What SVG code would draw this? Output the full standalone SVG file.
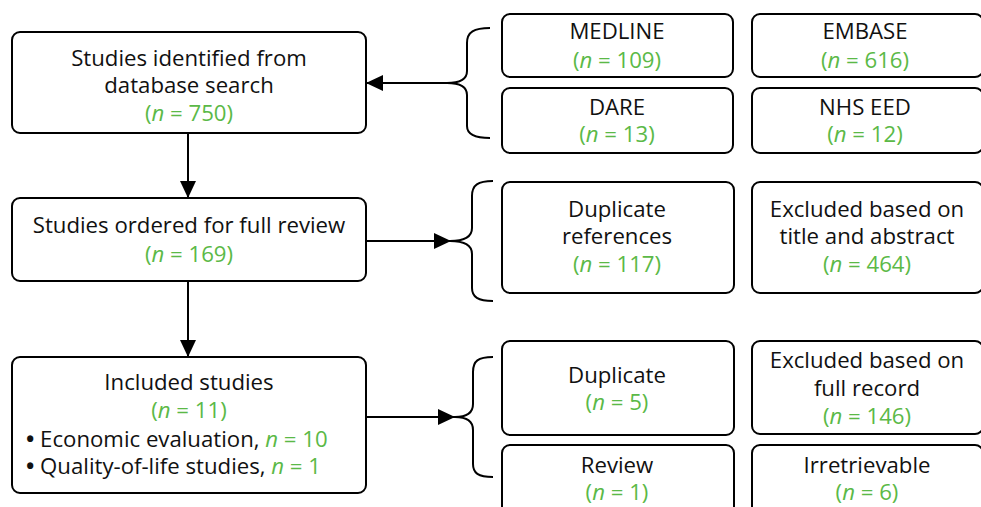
<svg xmlns="http://www.w3.org/2000/svg" width="981" height="507" viewBox="0 0 981 507">
<defs>
<style>
.box{fill:#fff;stroke:#000;stroke-width:2}
.t{font-family:"Open Sans","Noto Sans",sans-serif;font-size:22.2px;fill:#111;text-anchor:middle}
.l{text-anchor:start}
.g{fill:#5bb947}
.i{font-style:italic}
.c{fill:none;stroke:#000;stroke-width:2}
</style>
<marker id="ah" markerUnits="userSpaceOnUse" markerWidth="17" markerHeight="16" refX="17" refY="8" orient="auto">
<path d="M0,0 L17,8 L0,16 z" fill="#000"/>
</marker>
</defs>
<rect width="981" height="507" fill="#fff"/>
<g id="connectors">
<line class="c" x1="447" y1="83" x2="366" y2="83" marker-end="url(#ah)"/>
<line class="c" x1="188" y1="133" x2="188" y2="198" marker-end="url(#ah)"/>
<line class="c" x1="188" y1="281" x2="188" y2="357" marker-end="url(#ah)"/>
<line class="c" x1="366" y1="241" x2="451" y2="241" marker-end="url(#ah)"/>
<line class="c" x1="366" y1="417" x2="455" y2="417" marker-end="url(#ah)"/>
<path class="c" d="M490,28 C474,28 467,32 467,43 L467,71 C467,79 460,83 447,83 C460,83 467,87 467,95 L467,126 C467,134 474,138 490,138"/>
<path class="c" d="M493,181 C478,181 472,185 472,196 L472,228 C472,237 465,241 450,241 C465,241 472,245 472,254 L472,288 C472,297 478,301 493,301"/>
<path class="c" d="M493,357 C478,357 473,361 473,372 L473,404 C473,413 467,417 455,417 C467,417 473,421 473,430 L473,464 C473,473 478,477 493,477"/>
</g>
<g id="n-identified">
<rect class="box" x="12" y="32" width="354" height="101" rx="8"/>
<text class="t" x="189" y="66">Studies identified from</text>
<text class="t" x="189" y="93">database search</text>
<text class="t g" x="189" y="121">(<tspan class="i">n</tspan> = 750)</text>
</g>
<g id="n-ordered">
<rect class="box" x="12" y="198" width="354" height="83" rx="8"/>
<text class="t" x="189" y="233">Studies ordered for full review</text>
<text class="t g" x="189" y="262">(<tspan class="i">n</tspan> = 169)</text>
</g>
<g id="n-included">
<rect class="box" x="12" y="357" width="354" height="136" rx="8"/>
<text class="t" x="189" y="390">Included studies</text>
<text class="t g" x="189" y="418">(<tspan class="i">n</tspan> = 11)</text>
<text class="t l" x="26" y="447"><tspan font-weight="bold">•</tspan> Economic evaluation, <tspan class="g"><tspan class="i">n</tspan> = 10</tspan></text>
<text class="t l" x="26" y="474"><tspan font-weight="bold">•</tspan> Quality-of-life studies, <tspan class="g"><tspan class="i">n</tspan> = 1</tspan></text>
</g>
<g id="n-medline">
<rect class="box" x="502" y="14" width="231" height="63" rx="8"/>
<text class="t" x="617" y="39">MEDLINE</text>
<text class="t g" x="617" y="68">(<tspan class="i">n</tspan> = 109)</text>
</g>
<g id="n-embase">
<rect class="box" x="752" y="14" width="231" height="63" rx="8"/>
<text class="t" x="865" y="39">EMBASE</text>
<text class="t g" x="865" y="68">(<tspan class="i">n</tspan> = 616)</text>
</g>
<g id="n-dare">
<rect class="box" x="502" y="88" width="231" height="65" rx="8"/>
<text class="t" x="617" y="115">DARE</text>
<text class="t g" x="617" y="142">(<tspan class="i">n</tspan> = 13)</text>
</g>
<g id="n-nhseed">
<rect class="box" x="752" y="88" width="231" height="65" rx="8"/>
<text class="t" x="865" y="115">NHS EED</text>
<text class="t g" x="865" y="142">(<tspan class="i">n</tspan> = 12)</text>
</g>
<g id="n-dupref">
<rect class="box" x="502" y="182" width="232" height="111" rx="8"/>
<text class="t" x="617" y="217">Duplicate</text>
<text class="t" x="617" y="244">references</text>
<text class="t g" x="617" y="272">(<tspan class="i">n</tspan> = 117)</text>
</g>
<g id="n-excl-title">
<rect class="box" x="752" y="182" width="231" height="111" rx="8"/>
<text class="t" x="867" y="217">Excluded based on</text>
<text class="t" x="867" y="244">title and abstract</text>
<text class="t g" x="867" y="272">(<tspan class="i">n</tspan> = 464)</text>
</g>
<g id="n-duplicate">
<rect class="box" x="502" y="341" width="232" height="94" rx="8"/>
<text class="t" x="617" y="383">Duplicate</text>
<text class="t g" x="617" y="410">(<tspan class="i">n</tspan> = 5)</text>
</g>
<g id="n-excl-full">
<rect class="box" x="752" y="341" width="231" height="93" rx="8"/>
<text class="t" x="867" y="368">Excluded based on</text>
<text class="t" x="867" y="396">full record</text>
<text class="t g" x="867" y="424">(<tspan class="i">n</tspan> = 146)</text>
</g>
<g id="n-review">
<rect class="box" x="502" y="445" width="232" height="75" rx="8"/>
<text class="t" x="617" y="473">Review</text>
<text class="t g" x="617" y="500">(<tspan class="i">n</tspan> = 1)</text>
</g>
<g id="n-irretrievable">
<rect class="box" x="752" y="445" width="231" height="75" rx="8"/>
<text class="t" x="867" y="473">Irretrievable</text>
<text class="t g" x="867" y="500">(<tspan class="i">n</tspan> = 6)</text>
</g>
</svg>
